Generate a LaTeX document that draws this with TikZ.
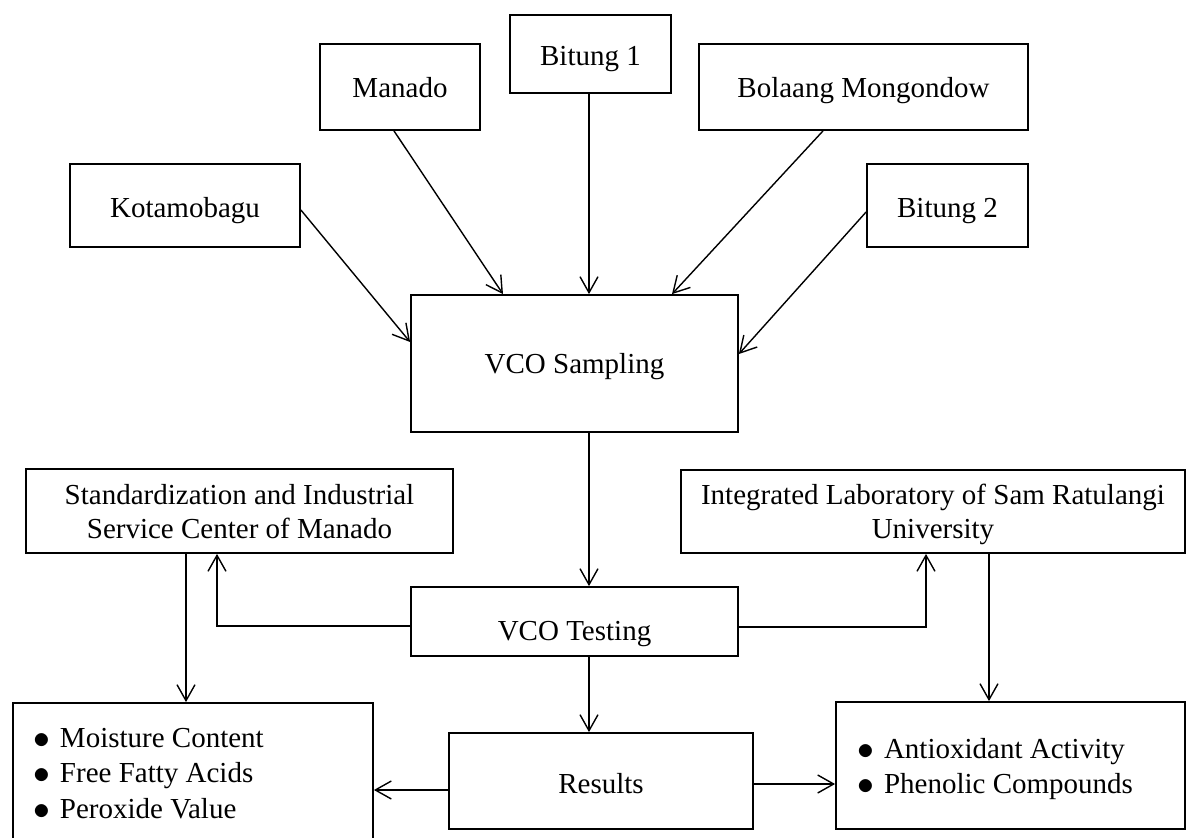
\documentclass[tikz,border=0pt]{standalone}
\usepackage{fontspec}
\usepackage{graphicx}
\setmainfont{Liberation Serif}
\usetikzlibrary{arrows.meta}
\newcommand{\blt}{\makebox[27pt][l]{\raisebox{-1.2pt}{\scalebox{1.35}{$\bullet$}}}}
\begin{document}
\begin{tikzpicture}[x=1pt,y=-1pt,
  box/.style={draw, line width=1.8pt, inner sep=0pt, font=\fontsize{29}{34}\selectfont, text depth=0pt},
  listbox/.style={draw, line width=1.8pt, inner ysep=0pt, align=left, font=\fontsize{29}{35.5}\selectfont},
  conn/.style={line width=1.4pt, -{Straight Barb[length=16pt,width=18pt,line width=1.4pt]}}]
\useasboundingbox (0,0) rectangle (1187,838);
\clip (0,0) rectangle (1187,838);
\fill[white] (0,0) rectangle (1187,838);
% top boxes
\node[box, minimum width=230pt, minimum height=83pt, text height=23pt] (kota) at (185,205.5) {Kotamobagu};
\node[box, minimum width=160pt, minimum height=86pt, text height=20pt] (manado) at (400,87) {Manado};
\node[box, minimum width=161pt, minimum height=78pt, text height=22pt] (bit1) at (590.5,54) {Bitung 1};
\node[box, minimum width=329pt, minimum height=86pt, text height=20pt] (bolaang) at (863.5,87) {Bolaang Mongondow};
\node[box, minimum width=161pt, minimum height=83pt, text height=23pt] (bit2) at (947.5,205.5) {Bitung 2};
% middle
\node[box, minimum width=327pt, minimum height=137pt, text height=19pt] (samp) at (574.5,363.5) {VCO Sampling};
\node[box, minimum width=427pt, minimum height=84pt, align=center, text height=54pt] (std) at (239.5,511) {\spaceskip=0pt\relax Standardization and Industrial\\Service Center of Manado};
\node[box, minimum width=504pt, minimum height=83pt, align=center, text height=53pt] (integ) at (933,511.5) {\spaceskip=0pt\relax Integrated Laboratory of Sam Ratulangi\\University};
\node[box, minimum width=327pt, minimum height=69pt, text height=37pt] (test) at (574.5,621.5) {VCO Testing};
\node[box, minimum width=304pt, minimum height=96pt, text height=24pt] (res) at (601,781) {Results};
% lists
\node[listbox, inner xsep=20pt, text width=320pt, minimum height=139pt, text height=20pt, text depth=71pt] (leftlist) at (193,772.5)
  {\spaceskip=0pt\relax\blt Moisture Content\\\blt Free Fatty Acids\\\blt Peroxide Value};
\node[listbox, inner xsep=21pt, text width=307pt, minimum height=127pt, text height=20pt, text depth=35pt] (rightlist) at (1010.5,765.5)
  {\spaceskip=0pt\relax\blt Antioxidant Activity\\\blt Phenolic Compounds};
% connectors into sampling
\draw[conn] ([yshift=-4.5pt]kota.east) -- ([yshift=21.5pt]samp.west);
\draw[conn] ([xshift=-6pt]manado.south) -- ([xshift=-71.5pt]samp.north);
\draw[conn] ([xshift=-1.5pt]bit1.south) -- ([xshift=14.5pt]samp.north);
\draw[conn] ([xshift=-40.5pt]bolaang.south) -- ([xshift=97.5pt]samp.north);
\draw[conn] ([yshift=-6.5pt]bit2.west) -- ([yshift=9.5pt]samp.east);
% sampling to testing
\draw[conn] ([xshift=14.5pt]samp.south) -- ([xshift=14.5pt]test.north);
% testing to labs
\draw[conn] ([yshift=-4.5pt]test.west) -| ([xshift=-22.5pt]std.south);
\draw[conn] ([yshift=-5.5pt]test.east) -| ([xshift=-7pt]integ.south);
% labs to lists
\draw[conn] ([xshift=-53.5pt]std.south) -- ([xshift=-53.5pt]std.south |- leftlist.north);
\draw[conn] ([xshift=56pt]integ.south) -- ([xshift=56pt]integ.south |- rightlist.north);
% testing to results
\draw[conn] ([xshift=14.5pt]test.south) -- ([xshift=14.5pt]test.south |- res.north);
% results to lists
\draw[conn] ([yshift=-9pt]res.west) -- ([yshift=-9pt]res.west -| leftlist.east);
\draw[conn] ([yshift=-3pt]res.east) -- ([yshift=-3pt]res.east -| rightlist.west);
\end{tikzpicture}
\end{document}
